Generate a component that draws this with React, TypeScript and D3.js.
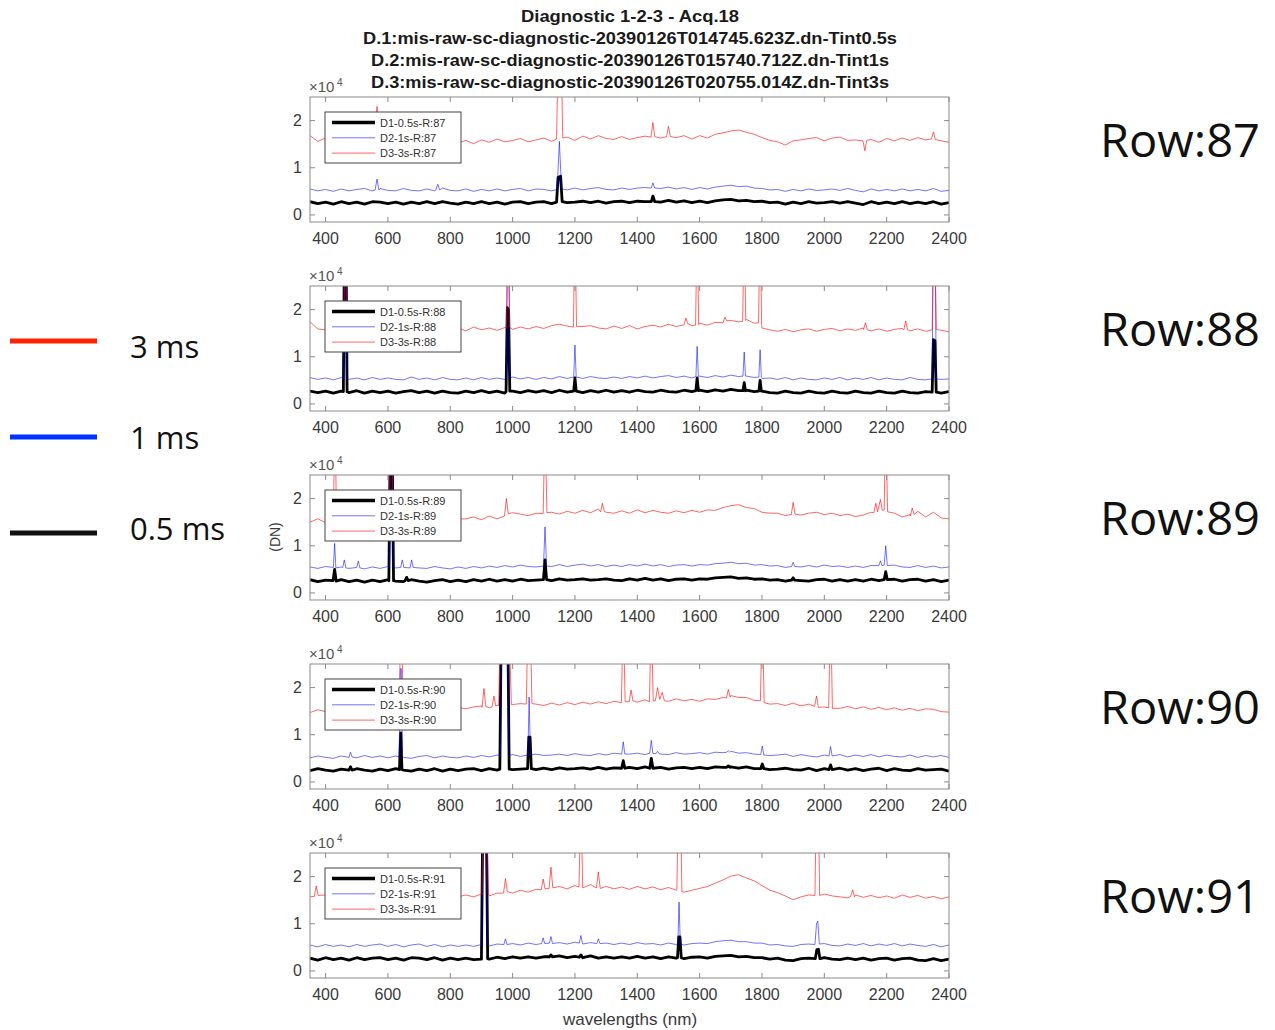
import React from "react";
import * as d3 from "d3";

// ---------- data (values in units of 100 DN) ----------
const GRID_START = 350; // nm, first grid wavelength
const GRID_STEP = 25; // nm between grid samples

const titleLines = [
  "Diagnostic 1-2-3 - Acq.18",
  "D.1:mis-raw-sc-diagnostic-20390126T014745.623Z.dn-Tint0.5s",
  "D.2:mis-raw-sc-diagnostic-20390126T015740.712Z.dn-Tint1s",
  "D.3:mis-raw-sc-diagnostic-20390126T020755.014Z.dn-Tint3s",
];
const rowNumbers = [87, 88, 89, 90, 91];
const xTicks = [400, 600, 800, 1000, 1200, 1400, 1600, 1800, 2000, 2200, 2400];
const yTicks = [0, 100, 200];
const yTickLabels = ["0", "1", "2"];
const seriesLabels = ["D1-0.5s", "D2-1s", "D3-3s"];
const sideLegendLabels = ["3 ms", "1 ms", "0.5 ms"];
const sideLegendColors = ["#ff2200", "#0033ff", "#111111"];

type Pt = [number, number];

// ---- Row 87 ----
const black87 = [
  28, 24, 27, 23, 28, 24, 27, 23, 28, 27,
  24, 27, 23, 27, 24, 28, 24, 28, 25, 23,
  27, 24, 28, 24, 27, 23, 27, 28, 24, 27,
  28, 24, 29, 26, 27, 29, 26, 29, 25, 28,
  29, 26, 29, 28, 32, 27, 31, 27, 30, 26,
  29, 26, 30, 32, 33, 30, 31, 28, 29, 26,
  27, 23, 27, 24, 28, 25, 26, 28, 25, 28,
  25, 22, 28, 24, 27, 24, 28, 24, 27, 24,
  28, 23, 26,
];
const blue87 = [
  55, 51, 54, 50, 55, 51, 54, 56, 51, 56,
  52, 51, 56, 52, 51, 55, 51, 57, 52, 51,
  55, 50, 54, 51, 55, 51, 54, 56, 51, 55,
  54, 51, 56, 53, 57, 53, 56, 58, 54, 53,
  57, 54, 57, 58, 60, 56, 59, 55, 58, 54,
  58, 55, 59, 61, 63, 60, 61, 57, 56, 53,
  54, 50, 54, 51, 55, 52, 53, 55, 52, 56,
  52, 49, 55, 51, 54, 51, 55, 51, 54, 51,
  56, 50, 52,
];
const red87 = [
  168, 156, 163, 152, 161, 153, 159, 154, 162, 156,
  153, 160, 155, 159, 152, 158, 161, 154, 159, 153,
  158, 151, 159, 154, 161, 155, 158, 162, 155, 159,
  163, 156, 161, 165, 158, 167, 161, 168, 162, 160,
  166, 160, 164, 167, 170, 163, 171, 164, 168, 161,
  168, 163, 171, 174, 178, 180, 175, 171, 164, 158,
  155, 148, 157, 159, 162, 164, 157, 163, 165, 158,
  159, 150, 160, 154, 162, 157, 163, 158, 164, 159,
  168, 157, 154,
];
const black87Spikes: Pt[][] = [
  [[1141, 27], [1146, 80], [1154, 82], [1159, 28]],
  [[1445, 28], [1450, 40], [1456, 28]],
];
const blue87Spikes: Pt[][] = [
  [[559, 53], [565, 76], [571, 53]],
  [[754, 53], [760, 65], [766, 53]],
  [[1143, 54], [1150, 156], [1157, 55]],
  [[1445, 57], [1450, 68], [1456, 57]],
];
const red87Spikes: Pt[][] = [
  [[558, 157], [565, 230], [571, 158]],
  [[1141, 161], [1145, 300], [1157, 300], [1161, 163]],
  [[1444, 165], [1450, 196], [1456, 166]],
  [[1494, 166], [1500, 188], [1506, 166]],
  [[2124, 157], [2130, 136], [2136, 158]],
  [[2344, 161], [2350, 176], [2356, 160]],
];

// ---- Row 88 ----
const black88 = [
  27, 24, 27, 23, 27, 24, 28, 23, 27, 24,
  27, 23, 26, 28, 24, 27, 23, 27, 24, 23,
  27, 24, 28, 24, 27, 23, 27, 24, 28, 25,
  28, 24, 29, 25, 28, 24, 28, 25, 29, 25,
  28, 25, 29, 26, 25, 29, 26, 25, 29, 26,
  29, 26, 30, 27, 31, 28, 29, 26, 27, 24,
  23, 27, 24, 23, 27, 24, 23, 27, 24, 23,
  27, 24, 23, 27, 24, 23, 27, 24, 23, 26,
  27, 23, 26,
];
const blue88 = [
  56, 52, 55, 51, 56, 52, 55, 51, 56, 52,
  55, 52, 51, 57, 52, 55, 51, 56, 52, 51,
  55, 51, 56, 52, 55, 52, 57, 53, 56, 52,
  56, 53, 58, 54, 57, 54, 58, 55, 54, 57,
  54, 58, 55, 59, 55, 58, 60, 56, 59, 55,
  59, 56, 60, 57, 61, 58, 59, 56, 54, 55,
  52, 56, 51, 55, 52, 51, 55, 52, 56, 51,
  55, 52, 56, 51, 55, 52, 51, 56, 52, 51,
  56, 52, 53,
];
const red88 = [
  174, 159, 157, 152, 159, 154, 158, 153, 159, 155,
  159, 154, 158, 161, 155, 159, 154, 160, 156, 161,
  155, 163, 157, 161, 156, 162, 158, 163, 159, 164,
  160, 166, 169, 165, 163, 164, 166, 161, 159, 165,
  160, 166, 159, 164, 167, 163, 169, 164, 172, 166,
  171, 167, 173, 174, 177, 174, 179, 171, 161, 157,
  154, 158, 153, 157, 159, 154, 158, 160, 155, 159,
  156, 161, 155, 159, 154, 158, 160, 155, 159, 154,
  161, 156, 153,
];
const black88Spikes: Pt[][] = [
  [[457, 26], [460, 300], [466, 300], [469, 26]],
  [[979, 26], [983, 204], [987, 200], [991, 27]],
  [[1196, 27], [1200, 55], [1204, 27]],
  [[1588, 28], [1592, 55], [1596, 28]],
  [[1739, 28], [1743, 45], [1747, 28]],
  [[1790, 27], [1794, 50], [1798, 27]],
  [[2346, 25], [2350, 136], [2355, 134], [2359, 25]],
];
const blue88Spikes: Pt[][] = [
  [[458, 54], [461, 300], [465, 300], [468, 54]],
  [[980, 55], [983, 300], [988, 300], [991, 55]],
  [[1196, 57], [1200, 125], [1204, 57]],
  [[1588, 58], [1592, 122], [1596, 58]],
  [[1739, 59], [1743, 110], [1747, 59]],
  [[1790, 57], [1794, 115], [1798, 56]],
  [[2346, 53], [2349, 300], [2356, 300], [2359, 53]],
];
const red88Spikes: Pt[][] = [
  [[458, 156], [461, 300], [465, 300], [468, 157]],
  [[980, 160], [983, 300], [988, 300], [991, 162]],
  [[1195, 163], [1198, 300], [1202, 300], [1205, 164]],
  [[1550, 168], [1556, 182], [1562, 170]],
  [[1587, 167], [1590, 300], [1594, 300], [1597, 168]],
  [[1675, 172], [1681, 184], [1687, 176]],
  [[1738, 175], [1741, 300], [1745, 300], [1748, 177]],
  [[1789, 172], [1792, 300], [1796, 300], [1799, 168]],
  [[2126, 158], [2132, 172], [2138, 157]],
  [[2255, 157], [2261, 176], [2267, 157]],
  [[2346, 157], [2349, 300], [2356, 300], [2359, 158]],
];

// ---- Row 89 ----
const black89 = [
  28, 24, 27, 23, 28, 24, 27, 23, 27, 24,
  28, 25, 24, 28, 25, 23, 26, 28, 24, 27,
  24, 28, 25, 29, 25, 28, 25, 29, 26, 27,
  29, 26, 30, 27, 28, 30, 27, 28, 30, 27,
  26, 30, 27, 31, 27, 30, 26, 29, 30, 27,
  30, 29, 32, 33, 34, 31, 32, 29, 30, 27,
  28, 25, 29, 26, 25, 28, 29, 25, 28, 25,
  28, 25, 29, 26, 30, 29, 25, 28, 29, 25,
  28, 24, 27,
];
const blue89 = [
  55, 52, 56, 51, 55, 52, 56, 51, 55, 52,
  56, 53, 52, 57, 53, 52, 56, 53, 51, 55,
  52, 56, 53, 57, 54, 58, 55, 59, 56, 55,
  59, 56, 60, 56, 59, 61, 57, 60, 56, 59,
  56, 60, 57, 61, 57, 60, 56, 59, 60, 57,
  60, 59, 62, 63, 65, 62, 63, 59, 60, 57,
  58, 54, 59, 55, 58, 55, 59, 56, 57, 54,
  57, 54, 58, 55, 60, 59, 55, 54, 58, 54,
  57, 53, 55,
];
const red89 = [
  150, 157, 149, 158, 152, 158, 154, 159, 153, 157,
  154, 158, 153, 159, 155, 160, 154, 158, 161, 157,
  157, 161, 155, 163, 157, 165, 170, 167, 164, 169,
  165, 171, 167, 173, 169, 175, 170, 178, 171, 169,
  174, 169, 176, 170, 175, 171, 169, 174, 170, 175,
  171, 176, 175, 181, 185, 187, 181, 179, 171, 169,
  169, 164, 169, 165, 169, 171, 166, 169, 164, 167,
  162, 165, 171, 176, 170, 169, 161, 166, 173, 161,
  171, 159, 157,
];
const black89Spikes: Pt[][] = [
  [[424, 26], [429, 50], [434, 25]],
  [[603, 26], [607, 300], [614, 300], [618, 26]],
  [[655, 26], [660, 33], [665, 26]],
  [[1099, 28], [1104, 70], [1109, 28]],
  [[1895, 27], [1900, 32], [1905, 27]],
  [[2192, 28], [2197, 45], [2202, 28]],
];
const blue89Spikes: Pt[][] = [
  [[425, 54], [429, 105], [433, 53]],
  [[455, 54], [460, 70], [465, 53]],
  [[500, 54], [505, 68], [510, 53]],
  [[605, 55], [608, 300], [614, 300], [617, 55]],
  [[641, 54], [646, 70], [651, 54]],
  [[671, 53], [676, 70], [681, 54]],
  [[1099, 57], [1104, 140], [1109, 57]],
  [[1895, 56], [1900, 65], [1905, 56]],
  [[2175, 58], [2180, 68], [2185, 58]],
  [[2192, 59], [2197, 100], [2202, 58]],
];
const red89Spikes: Pt[][] = [
  [[425, 154], [428, 300], [432, 300], [435, 155]],
  [[604, 155], [607, 300], [614, 300], [617, 156]],
  [[974, 163], [980, 200], [986, 168]],
  [[1098, 168], [1102, 300], [1106, 300], [1110, 170]],
  [[1282, 172], [1288, 190], [1294, 173]],
  [[1894, 166], [1900, 192], [1906, 167]],
  [[2159, 170], [2165, 190], [2171, 172], [2180, 198], [2186, 175]],
  [[2192, 176], [2195, 300], [2199, 300], [2203, 172]],
  [[2276, 163], [2282, 180], [2288, 166]],
];

// ---- Row 90 ----
const black90 = [
  24, 28, 25, 23, 27, 24, 28, 25, 23, 27,
  24, 28, 25, 23, 27, 24, 28, 23, 27, 24,
  27, 28, 24, 28, 25, 29, 26, 27, 29, 26,
  29, 26, 30, 27, 28, 30, 27, 31, 27, 30,
  27, 31, 28, 32, 28, 31, 27, 30, 31, 28,
  31, 28, 32, 31, 32, 29, 32, 28, 29, 26,
  27, 29, 26, 25, 29, 24, 28, 25, 29, 25,
  28, 24, 27, 29, 24, 28, 25, 24, 28, 25,
  26, 27, 23,
];
const blue90 = [
  51, 55, 52, 50, 55, 52, 51, 56, 52, 55,
  51, 55, 52, 50, 54, 56, 51, 55, 52, 51,
  55, 52, 56, 53, 57, 54, 58, 54, 57, 59,
  56, 57, 59, 56, 60, 57, 56, 60, 57, 61,
  58, 59, 61, 58, 62, 59, 58, 62, 59, 60,
  62, 59, 63, 62, 65, 61, 62, 59, 59, 56,
  57, 59, 54, 58, 55, 53, 57, 54, 58, 53,
  57, 54, 58, 53, 57, 54, 53, 57, 52, 56,
  53, 56, 52,
];
const red90 = [
  147, 153, 149, 156, 152, 150, 155, 151, 156, 152,
  157, 153, 151, 156, 158, 153, 157, 159, 154, 158,
  155, 159, 161, 157, 163, 159, 164, 166, 161, 165,
  162, 167, 163, 168, 164, 169, 165, 170, 166, 171,
  167, 173, 169, 174, 170, 175, 171, 176, 172, 175,
  171, 176, 175, 179, 183, 179, 179, 173, 171, 165,
  166, 162, 167, 161, 165, 159, 159, 162, 156, 160,
  155, 159, 154, 158, 153, 157, 152, 156, 151, 155,
  154, 149, 148,
];
const black90Spikes: Pt[][] = [
  [[475, 25], [480, 32], [485, 25]],
  [[637, 26], [641, 104], [645, 26]],
  [[959, 27], [963, 300], [985, 300], [989, 27]],
  [[1048, 28], [1052, 95], [1056, 95], [1060, 28]],
  [[1350, 29], [1355, 45], [1360, 29]],
  [[1440, 29], [1445, 50], [1450, 29]],
  [[1687, 31], [1692, 34], [1697, 31]],
  [[1796, 28], [1801, 38], [1806, 28]],
  [[2015, 26], [2020, 36], [2025, 26]],
];
const blue90Spikes: Pt[][] = [
  [[475, 52], [480, 63], [485, 53]],
  [[636, 53], [640, 240], [643, 240], [647, 53]],
  [[961, 56], [965, 300], [984, 300], [988, 56]],
  [[1049, 57], [1053, 180], [1057, 57]],
  [[1350, 59], [1355, 85], [1360, 59]],
  [[1440, 61], [1445, 88], [1450, 60]],
  [[1460, 60], [1465, 65], [1470, 60]],
  [[1687, 63], [1692, 66], [1697, 63]],
  [[1796, 58], [1801, 76], [1806, 57]],
  [[2015, 55], [2020, 75], [2025, 55]],
];
const red90Spikes: Pt[][] = [
  [[636, 154], [640, 300], [645, 300], [649, 153]],
  [[902, 158], [908, 198], [914, 160]],
  [[934, 159], [940, 182], [946, 161]],
  [[955, 162], [960, 300], [990, 300], [996, 164]],
  [[1044, 165], [1048, 300], [1058, 300], [1062, 166]],
  [[1349, 168], [1353, 300], [1357, 300], [1361, 170]],
  [[1374, 170], [1380, 195], [1386, 172]],
  [[1439, 170], [1443, 300], [1447, 300], [1451, 172]],
  [[1458, 172], [1465, 200], [1472, 175], [1480, 190], [1487, 172]],
  [[1686, 178], [1692, 196], [1698, 180]],
  [[1795, 172], [1799, 300], [1803, 300], [1807, 168]],
  [[1969, 160], [1975, 182], [1981, 158]],
  [[2014, 157], [2018, 300], [2022, 300], [2026, 156]],
];

// ---- Row 91 ----
const black91 = [
  27, 23, 28, 24, 27, 23, 28, 24, 27, 28,
  24, 27, 23, 28, 27, 24, 28, 23, 27, 24,
  27, 24, 28, 25, 29, 26, 30, 27, 30, 27,
  30, 29, 32, 28, 31, 28, 32, 27, 30, 27,
  30, 27, 31, 27, 30, 26, 30, 27, 26, 29,
  30, 27, 31, 32, 33, 30, 31, 28, 28, 25,
  27, 23, 22, 26, 27, 24, 28, 25, 24, 27,
  24, 27, 23, 26, 27, 23, 26, 27, 23, 22,
  26, 22, 25,
];
const blue91 = [
  55, 51, 56, 52, 55, 51, 56, 52, 55, 57,
  52, 56, 51, 55, 57, 52, 56, 51, 55, 52,
  55, 52, 56, 53, 57, 54, 58, 55, 59, 56,
  59, 56, 60, 57, 61, 57, 60, 56, 59, 56,
  59, 56, 60, 57, 58, 55, 59, 56, 55, 58,
  59, 58, 62, 64, 65, 62, 62, 59, 59, 55,
  56, 53, 52, 56, 57, 54, 58, 54, 53, 57,
  54, 58, 53, 57, 54, 58, 53, 57, 54, 52,
  56, 51, 55,
];
const red91 = [
  157, 160, 161, 155, 159, 154, 158, 160, 155, 159,
  156, 160, 155, 161, 157, 155, 160, 156, 161, 157,
  161, 157, 163, 159, 165, 169, 165, 171, 167, 173,
  175, 177, 179, 174, 181, 177, 183, 175, 179, 174,
  178, 173, 179, 174, 178, 172, 177, 171, 167, 171,
  175, 179, 186, 193, 201, 204, 197, 191, 181, 171,
  166, 159, 151, 157, 161, 157, 163, 159, 157, 155,
  161, 156, 160, 155, 159, 154, 161, 156, 160, 154,
  158, 153, 157,
];
const black91Spikes: Pt[][] = [
  [[900, 25], [904, 300], [916, 300], [920, 26]],
  [[1118, 30], [1123, 34], [1128, 30]],
  [[1214, 29], [1219, 34], [1224, 29]],
  [[1529, 28], [1533, 72], [1537, 72], [1541, 28]],
  [[1971, 26], [1976, 45], [1981, 46], [1986, 26]],
];
const blue91Spikes: Pt[][] = [
  [[901, 54], [905, 300], [915, 300], [919, 55]],
  [[972, 56], [977, 68], [982, 56]],
  [[1093, 58], [1098, 70], [1103, 58]],
  [[1118, 59], [1123, 73], [1128, 58]],
  [[1214, 59], [1219, 75], [1224, 59]],
  [[1270, 58], [1275, 68], [1280, 58]],
  [[1530, 57], [1534, 146], [1538, 57]],
  [[1970, 56], [1975, 100], [1979, 106], [1984, 57]],
];
const red91Spikes: Pt[][] = [
  [[364, 158], [370, 180], [376, 160]],
  [[901, 162], [905, 300], [918, 300], [922, 164]],
  [[971, 165], [977, 196], [983, 168]],
  [[1092, 172], [1098, 195], [1104, 174]],
  [[1117, 175], [1123, 220], [1129, 176]],
  [[1213, 178], [1217, 300], [1221, 300], [1225, 176]],
  [[1269, 176], [1275, 210], [1281, 175]],
  [[1527, 172], [1530, 300], [1540, 300], [1543, 168]],
  [[1970, 160], [1973, 300], [1982, 300], [1985, 160]],
  [[2085, 158], [2091, 172], [2097, 157]],
];

// ---------- table built from the arrays ----------
const panels = [
  { row: rowNumbers[0], series: [[black87, black87Spikes], [blue87, blue87Spikes], [red87, red87Spikes]] },
  { row: rowNumbers[1], series: [[black88, black88Spikes], [blue88, blue88Spikes], [red88, red88Spikes]] },
  { row: rowNumbers[2], series: [[black89, black89Spikes], [blue89, blue89Spikes], [red89, red89Spikes]] },
  { row: rowNumbers[3], series: [[black90, black90Spikes], [blue90, blue90Spikes], [red90, red90Spikes]] },
  { row: rowNumbers[4], series: [[black91, black91Spikes], [blue91, blue91Spikes], [red91, red91Spikes]] },
] as { row: number; series: [number[], Pt[][]][] }[];

function buildSeries(base: number[], spikes: Pt[][]): Pt[] {
  const grid: Pt[] = base.map((v, i) => [GRID_START + i * GRID_STEP, v]);
  const kept = grid.filter(
    ([w]) => !spikes.some((s) => w >= s[0][0] && w <= s[s.length - 1][0])
  );
  return [...kept, ...spikes.flat()].sort((a, b) => a[0] - b[0]);
}

// ---------- layout / style ----------
const PLOT_L = 310;
const PLOT_R = 949;
const PANEL_H = 125;
const PANEL_TOPS = [97, 286, 475, 664, 853];
const FONT = "'Liberation Sans', Arial, Helvetica, sans-serif";
const SERIES_STYLE = [
  { stroke: "#000000", width: 2.8, opacity: 1 },
  { stroke: "#0000ff", width: 1, opacity: 0.55 },
  { stroke: "#ff0000", width: 1, opacity: 0.6 },
];
const AXIS_COLOR = "#8a8a8a";
const TICK_TEXT = "#3a3a3a";
const SIDE_LINE_Y = [341, 437, 533];
const SIDE_TEXT_Y = [358, 449, 540];

export default function App() {
  const x = d3.scaleLinear().domain([350, 2400]).range([PLOT_L, PLOT_R]);
  const titleWidths = [218, 534, 518, 518];

  return (
    <svg
      width={1275}
      height={1030}
      style={{ position: "absolute", left: 0, top: 0, background: "#fff" }}
      fontFamily={FONT}
    >
      <rect x={0} y={0} width={1275} height={1030} fill="#ffffff" />

      {/* title */}
      {titleLines.map((t, i) => (
        <text
          key={i}
          x={630}
          y={22 + i * 22}
          textAnchor="middle"
          fontSize={16}
          fontWeight="bold"
          fill="#1a1a1a"
          textLength={titleWidths[i]}
          lengthAdjust="spacingAndGlyphs"
        >
          {t}
        </text>
      ))}

      {panels.map((p, pi) => {
        const top = PANEL_TOPS[pi];
        const bottom = top + PANEL_H;
        const y = d3.scaleLinear().domain([-15, 250]).range([bottom, top]);
        const line = d3
          .line<Pt>()
          .x((d) => x(d[0]))
          .y((d) => y(d[1]));
        const clipId = `clip-${pi}`;
        const legX = 325;
        const legY = top + 15;
        return (
          <g key={pi}>
            <defs>
              <clipPath id={clipId}>
                <rect x={PLOT_L} y={top} width={PLOT_R - PLOT_L} height={PANEL_H} />
              </clipPath>
            </defs>
            <g clipPath={`url(#${clipId})`}>
              {p.series.map(([base, spikes], si) => (
                <path
                  key={si}
                  d={line(buildSeries(base, spikes)) || ""}
                  fill="none"
                  stroke={SERIES_STYLE[si].stroke}
                  strokeWidth={SERIES_STYLE[si].width}
                  strokeOpacity={SERIES_STYLE[si].opacity}
                  strokeLinejoin="round"
                />
              ))}
            </g>
            {/* frame */}
            <rect
              x={PLOT_L}
              y={top}
              width={PLOT_R - PLOT_L}
              height={PANEL_H}
              fill="none"
              stroke={AXIS_COLOR}
              strokeWidth={1}
            />
            {/* x ticks */}
            {xTicks.map((t) => (
              <g key={t}>
                <line x1={x(t)} x2={x(t)} y1={bottom} y2={bottom - 5} stroke={AXIS_COLOR} />
                <line x1={x(t)} x2={x(t)} y1={top} y2={top + 5} stroke={AXIS_COLOR} />
                <text
                  x={x(t)}
                  y={bottom + 22}
                  textAnchor="middle"
                  fontSize={16}
                  fill={TICK_TEXT}
                >
                  {t}
                </text>
              </g>
            ))}
            {/* y ticks */}
            {yTicks.map((t, ti) => (
              <g key={t}>
                <line x1={PLOT_L} x2={PLOT_L + 5} y1={y(t)} y2={y(t)} stroke={AXIS_COLOR} />
                <line x1={PLOT_R} x2={PLOT_R - 5} y1={y(t)} y2={y(t)} stroke={AXIS_COLOR} />
                <text
                  x={PLOT_L - 8}
                  y={y(t) + 5.5}
                  textAnchor="end"
                  fontSize={16}
                  fill={TICK_TEXT}
                >
                  {yTickLabels[ti]}
                </text>
              </g>
            ))}
            {/* exponent */}
            <text x={309} y={top - 5} fontSize={15} fill="#555">
              ×10
            </text>
            <text x={337} y={top - 11} fontSize={10} fill="#555">
              4
            </text>
            {/* legend */}
            <rect
              x={legX}
              y={legY}
              width={136}
              height={51}
              fill="#ffffff"
              stroke="#444"
              strokeWidth={1}
            />
            {seriesLabels.map((lab, si) => {
              const ly = legY + 10.5 + si * 15.3;
              return (
                <g key={si}>
                  <line
                    x1={legX + 7}
                    x2={legX + 50}
                    y1={ly}
                    y2={ly}
                    stroke={SERIES_STYLE[si].stroke}
                    strokeWidth={si === 0 ? 3.5 : 1}
                    strokeOpacity={SERIES_STYLE[si].opacity}
                  />
                  <text x={legX + 55} y={ly + 4} fontSize={11} fill="#333">
                    {`${lab}-R:${p.row}`}
                  </text>
                </g>
              );
            })}
            {/* row label */}
            <text
              x={1100}
              y={top + 60}
              fontSize={46}
              fontFamily="'Open Sans', 'Noto Sans', sans-serif"
              fill="#111"
              textLength={160}
              lengthAdjust="spacingAndGlyphs"
            >
              {`Row:${p.row}`}
            </text>
          </g>
        );
      })}

      {/* y label */}
      <text
        x={0}
        y={0}
        transform={`translate(280, ${PANEL_TOPS[2] + 62}) rotate(-90)`}
        textAnchor="middle"
        fontSize={14}
        fill={TICK_TEXT}
      >
        (DN)
      </text>
      {/* x label */}
      <text x={630} y={1025} textAnchor="middle" fontSize={17} fill={TICK_TEXT}>
        wavelengths (nm)
      </text>

      {/* side legend */}
      {sideLegendLabels.map((lab, i) => (
        <g key={i}>
          <line
            x1={10}
            x2={97}
            y1={SIDE_LINE_Y[i]}
            y2={SIDE_LINE_Y[i]}
            stroke={sideLegendColors[i]}
            strokeWidth={5}
          />
          <text
            x={130}
            y={SIDE_TEXT_Y[i]}
            fontSize={31}
            fontFamily="'Open Sans', 'Noto Sans', sans-serif"
            fill="#111"
          >
            {lab}
          </text>
        </g>
      ))}
    </svg>
  );
}
